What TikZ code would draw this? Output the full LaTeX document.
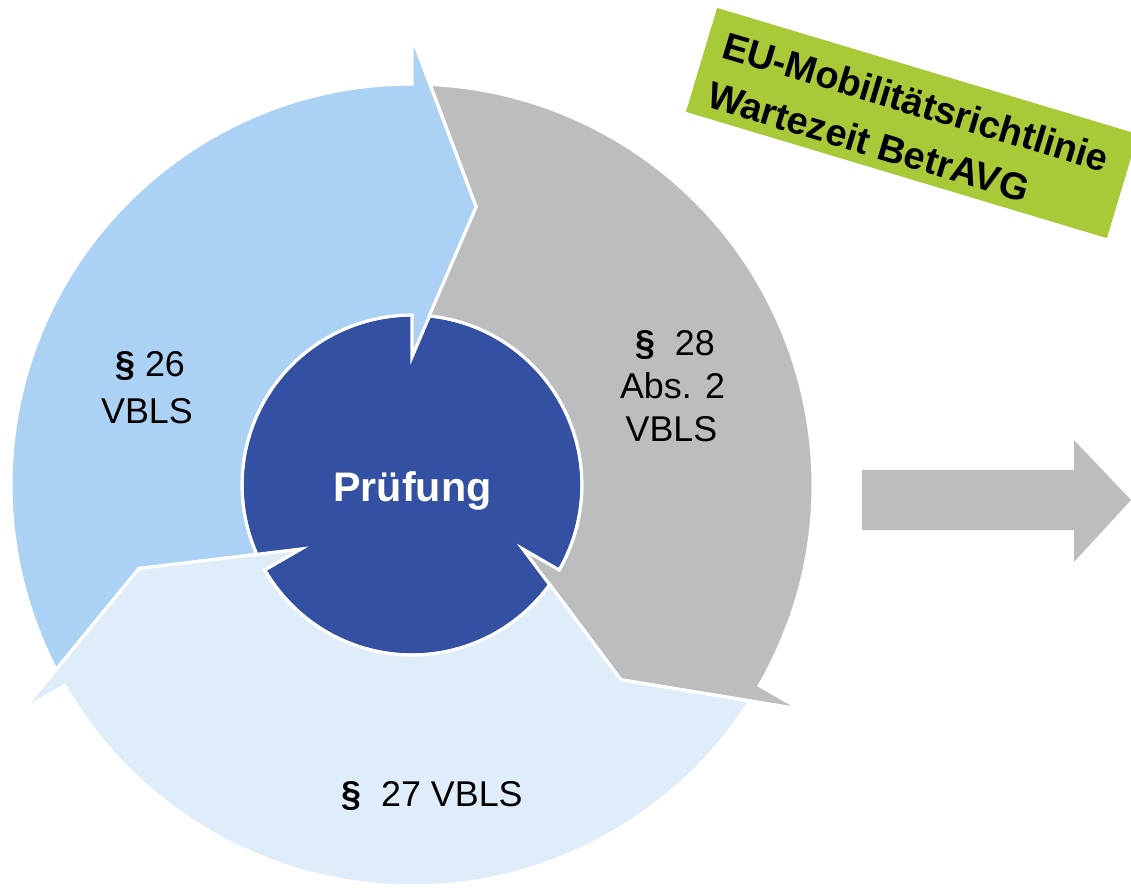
\documentclass[tikz,border=0pt]{standalone}
\usepackage{fontspec}
\setmainfont{Liberation Sans}
\definecolor{cLB}{HTML}{ABD1F4}
\definecolor{cGR}{HTML}{BCBDBF}
\definecolor{cVL}{HTML}{DFEDFA}
\definecolor{cDB}{HTML}{3350A2}
\definecolor{cGN}{HTML}{A8C938}
\begin{document}
\begin{tikzpicture}[x=0.02cm,y=0.02cm,
  ringline/.style={draw=white,line width=1.8pt,line join=miter},
  lbl/.style={anchor=base,inner sep=0pt,font=\fontsize{20.4}{24}\selectfont},
  gtxt/.style={anchor=base west,inner sep=0pt,rotate=-16.7,font=\fontsize{21.6}{26}\selectfont\bfseries}]
\useasboundingbox (-412,-402) rectangle (719,485);
% centre circle
\filldraw[fill=cDB,ringline] (0,0) circle[radius=170];
% three circular arrows
\foreach \b/\col in {90/cLB,-30/cGR,-150/cVL}{
  \pgfmathsetmacro{\s}{\b+120}
  \filldraw[fill=\col,ringline]
    (\s-2.6:401) -- (\s-13:285.5) -- (\s-5.8:170)
    arc[start angle=\s-5.8,end angle=\b,radius=170]
    -- (\b:128) -- (\b-13:285.5) -- (\b:448) -- (\b:401)
    arc[start angle=\b,end angle=\s-2.6,radius=401] -- cycle;
}
\node[anchor=base,inner sep=0pt,text=white,font=\fontsize{23.5}{28}\selectfont\bfseries] (pr) at (0.5,-16.7) {Prüfung};
% labels
\node[lbl] (a1) at (-262,108.3) {{\bfseries §} 26};
\node[lbl] (a2) at (-265,61.7) {VBLS};
\node[lbl] (b1) at (263,130) {{\bfseries §}\ \ 28};
\node[lbl] (b2) at (260.5,87) {Abs. 2};
\node[lbl] (b3) at (259.5,43.3) {VBLS};
\node[lbl] (c1) at (20,-321) {{\bfseries §}\ \ 27 VBLS};
% green label
\begin{scope}[shift={(500,362)},rotate=-16.7]
  \fill[cGN] (-219.75,-54.25) rectangle (219.75,54.25);
  \node[gtxt] (g1) at (-203,8) {EU-Mobilitätsrichtlinie};
  \node[gtxt] (g2) at (-203,-44) {Wartezeit BetrAVG};
\end{scope}
% right arrow
\fill[cGR] (450,15) -- (662,15) -- (662,45) -- (719,-15) -- (662,-77) -- (662,-45) -- (450,-45) -- cycle;
\end{tikzpicture}
\end{document}
